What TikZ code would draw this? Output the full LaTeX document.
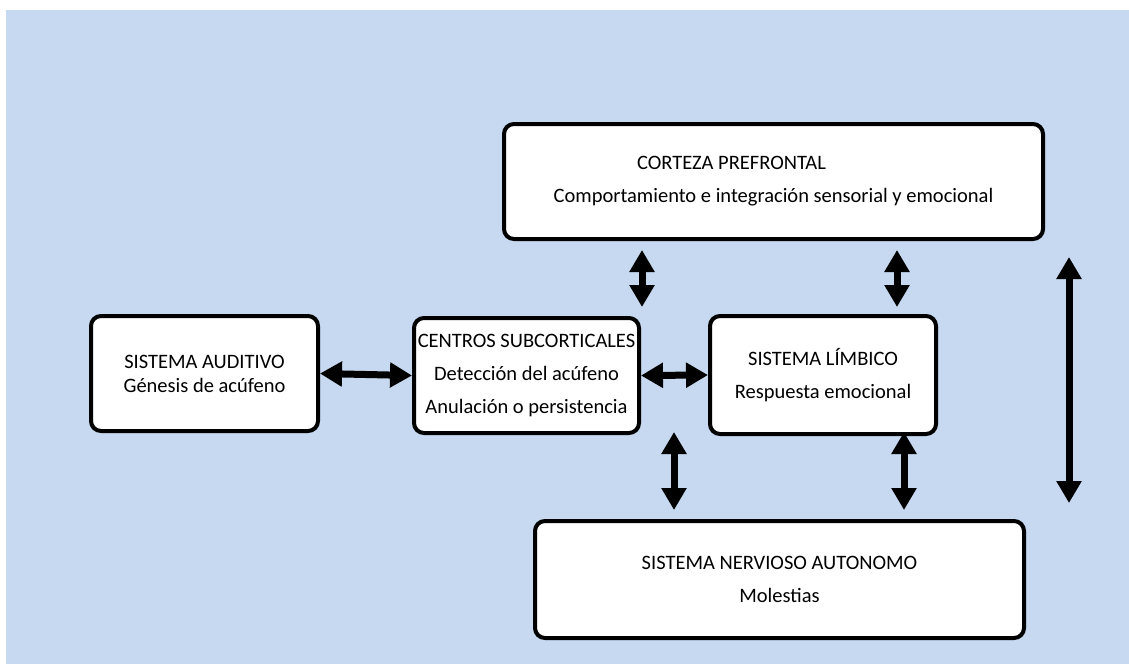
\documentclass[tikz,border=0pt]{standalone}
\usepackage{fontspec}
\setmainfont{Carlito}
\usetikzlibrary{arrows.meta}
\definecolor{bgblue}{HTML}{C6D9F0}
\tikzset{
  box/.style={draw=black, fill=white, line width=4pt, rounded corners=10pt, align=center, inner sep=0pt,
    font=\fontsize{20.5}{33}\selectfont, text=black},
  dbl/.style={line width=7pt, {Triangle[width=24pt,length=22pt]}-{Triangle[width=24pt,length=22pt]}}
}
\begin{document}
\begin{tikzpicture}[x=1pt,y=-1pt]
\useasboundingbox (0,0) rectangle (1129,664);
\fill[white] (0,0) rectangle (1129,664);
\fill[bgblue] (6,10) rectangle (1129,664);

\node[box, minimum width=539pt, minimum height=115pt] (cor) at (773.5,181.5)
  {CORTEZA PREFRONTAL\hspace*{84pt}\\Comportamiento e integración sensorial y emocional};
\node[box, minimum width=227pt, minimum height=115pt, font=\fontsize{20.5}{24}\selectfont] (aud) at (204.5,373.5)
  {SISTEMA AUDITIVO\\Génesis de acúfeno};
\node[box, minimum width=225pt, minimum height=115pt] (cen) at (526.5,375.5)
  {CENTROS SUBCORTICALES\\Detección del acúfeno\\Anulación o persistencia};
\node[box, minimum width=226pt, minimum height=118pt] (lim) at (823,375)
  {SISTEMA LÍMBICO\\Respuesta emocional};
\node[box, minimum width=489pt, minimum height=117pt] (ner) at (779.5,579.5)
  {SISTEMA NERVIOSO AUTONOMO\\Molestias};

\coordinate (a1) at (642,250);
\coordinate (a2) at (642,307);
\coordinate (b1) at (897,250);
\coordinate (b2) at (897,307);
\coordinate (c1) at (674,432);
\coordinate (c2) at (674,510);
\coordinate (d1) at (904,432);
\coordinate (d2) at (904,510);
\coordinate (e1) at (1069,257);
\coordinate (e2) at (1069,503);

\draw[dbl] (aud.east) -- (cen.west);
\draw[dbl] (cen.east) -- (lim.west);
\draw[dbl] (a1) -- (a2);
\draw[dbl] (b1) -- (b2);
\draw[dbl] (c1) -- (c2);
\draw[dbl] (d1) -- (d2);
\draw[dbl] (e1) -- (e2);
\end{tikzpicture}
\end{document}
